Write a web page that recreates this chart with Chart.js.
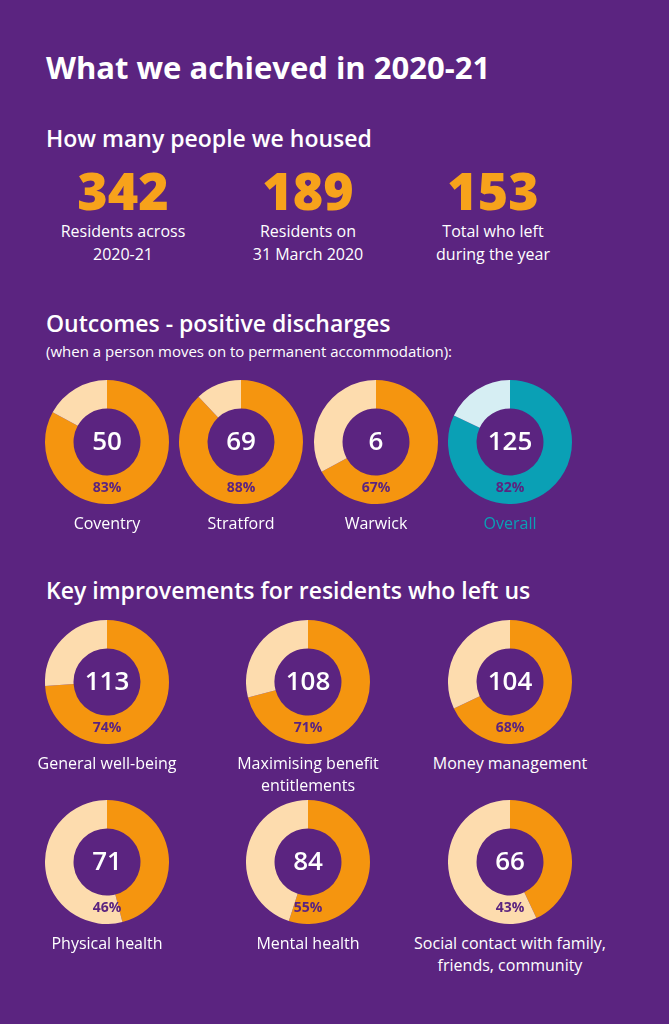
<!DOCTYPE html>
<html><head><meta charset="utf-8">
<script src="https://cdn.jsdelivr.net/npm/chart.js@4/dist/chart.umd.min.js"></script>
<style>
body{margin:0;background:#5b2480;font-family:"Open Sans",Lato,sans-serif;color:#fff;}
#page{position:relative;width:669px;height:1024px;overflow:hidden;}
.t{position:absolute;white-space:nowrap;}
.c{position:absolute;text-align:center;transform:translateX(-50%);white-space:nowrap;}
canvas{position:absolute;}
</style></head><body><div id="page"></div>
<script>
const headline = ["342", "189", "153"];
const headlineLabels = [["Residents across", "2020-21"], ["Residents on", "31 March 2020"], ["Total who left", "during the year"]];
const outcomeNames = ["Coventry", "Stratford", "Warwick", "Overall"];
const outcomeCounts = [50, 69, 6, 125];
const outcomePct = [83, 88, 67, 82];
const improveNames = [["General well-being"], ["Maximising benefit", "entitlements"], ["Money management"],
  ["Physical health"], ["Mental health"], ["Social contact with family,", "friends, community"]];
const improveCounts = [113, 108, 104, 71, 84, 66];
const improvePct = [74, 71, 68, 46, 55, 43];

const page = document.getElementById("page");
function text(cls, x, y, str, style) {
    const d = document.createElement("div");
    d.className = cls; d.style.left = x + "px"; d.style.top = y + "px";
    d.innerHTML = str; Object.assign(d.style, style || {});
    page.appendChild(d);
}
function donut(cx, cy, pct, count, name, colors, nameColor) {
    const cv = document.createElement("canvas");
    cv.width = 124; cv.height = 124;
    cv.style.left = (cx - 62) + "px"; cv.style.top = (cy - 62) + "px";
    page.appendChild(cv);
    new Chart(cv.getContext("2d"), {
        type: "doughnut",
        data: { datasets: [{ data: [pct, 100 - pct], backgroundColor: colors, borderWidth: 0 }] },
        options: { responsive: false, animation: false, cutout: "54%",
            plugins: { legend: { display: false }, tooltip: { enabled: false } } }
    });
    text("c", cx, cy - 20, count, { fontSize: "26px", fontWeight: "600" });
    text("c", cx, cy + 35, pct + "%", { fontSize: "14px", fontWeight: "700", color: "#5b2480" });
    name.forEach((n, i) => text("c", cx, cy + 70 + i * 22, n, { fontSize: "16px", color: nameColor || "#fff" }));
}

text("t", 46, 46, "What we achieved in 2020-21", { fontSize: "31px", fontWeight: "700" });
text("t", 46, 122, "How many people we housed", { fontSize: "23px", fontWeight: "600" });
const hx = [123, 308, 493];
headline.forEach((h, i) => {
    text("c", hx[i], 154, h, { fontSize: "52px", fontWeight: "800", color: "#f7a21b" });
    headlineLabels[i].forEach((l, j) => text("c", hx[i], 220 + j * 23, l, { fontSize: "16px" }));
});
text("t", 46, 307, "Outcomes - positive discharges", { fontSize: "23px", fontWeight: "600" });
text("t", 46, 341, "(when a person moves on to permanent accommodation):", { fontSize: "15px" });

const ox = [107, 241, 376, 510];
outcomeNames.forEach((n, i) => {
    const overall = i === 3;
    donut(ox[i], 442, outcomePct[i], outcomeCounts[i], [n],
        overall ? ["#0aa0b5", "#d6eef3"] : ["#f5950f", "#fddcae"], overall ? "#0aa0b5" : "#fff");
});
text("t", 46, 574, "Key improvements for residents who left us", { fontSize: "23px", fontWeight: "600" });
const ix = [107, 308, 510];
improveNames.forEach((n, i) => {
    donut(ix[i % 3], i < 3 ? 682 : 862, improvePct[i], improveCounts[i], n, ["#f5950f", "#fddcae"]);
});
</script></body></html>
